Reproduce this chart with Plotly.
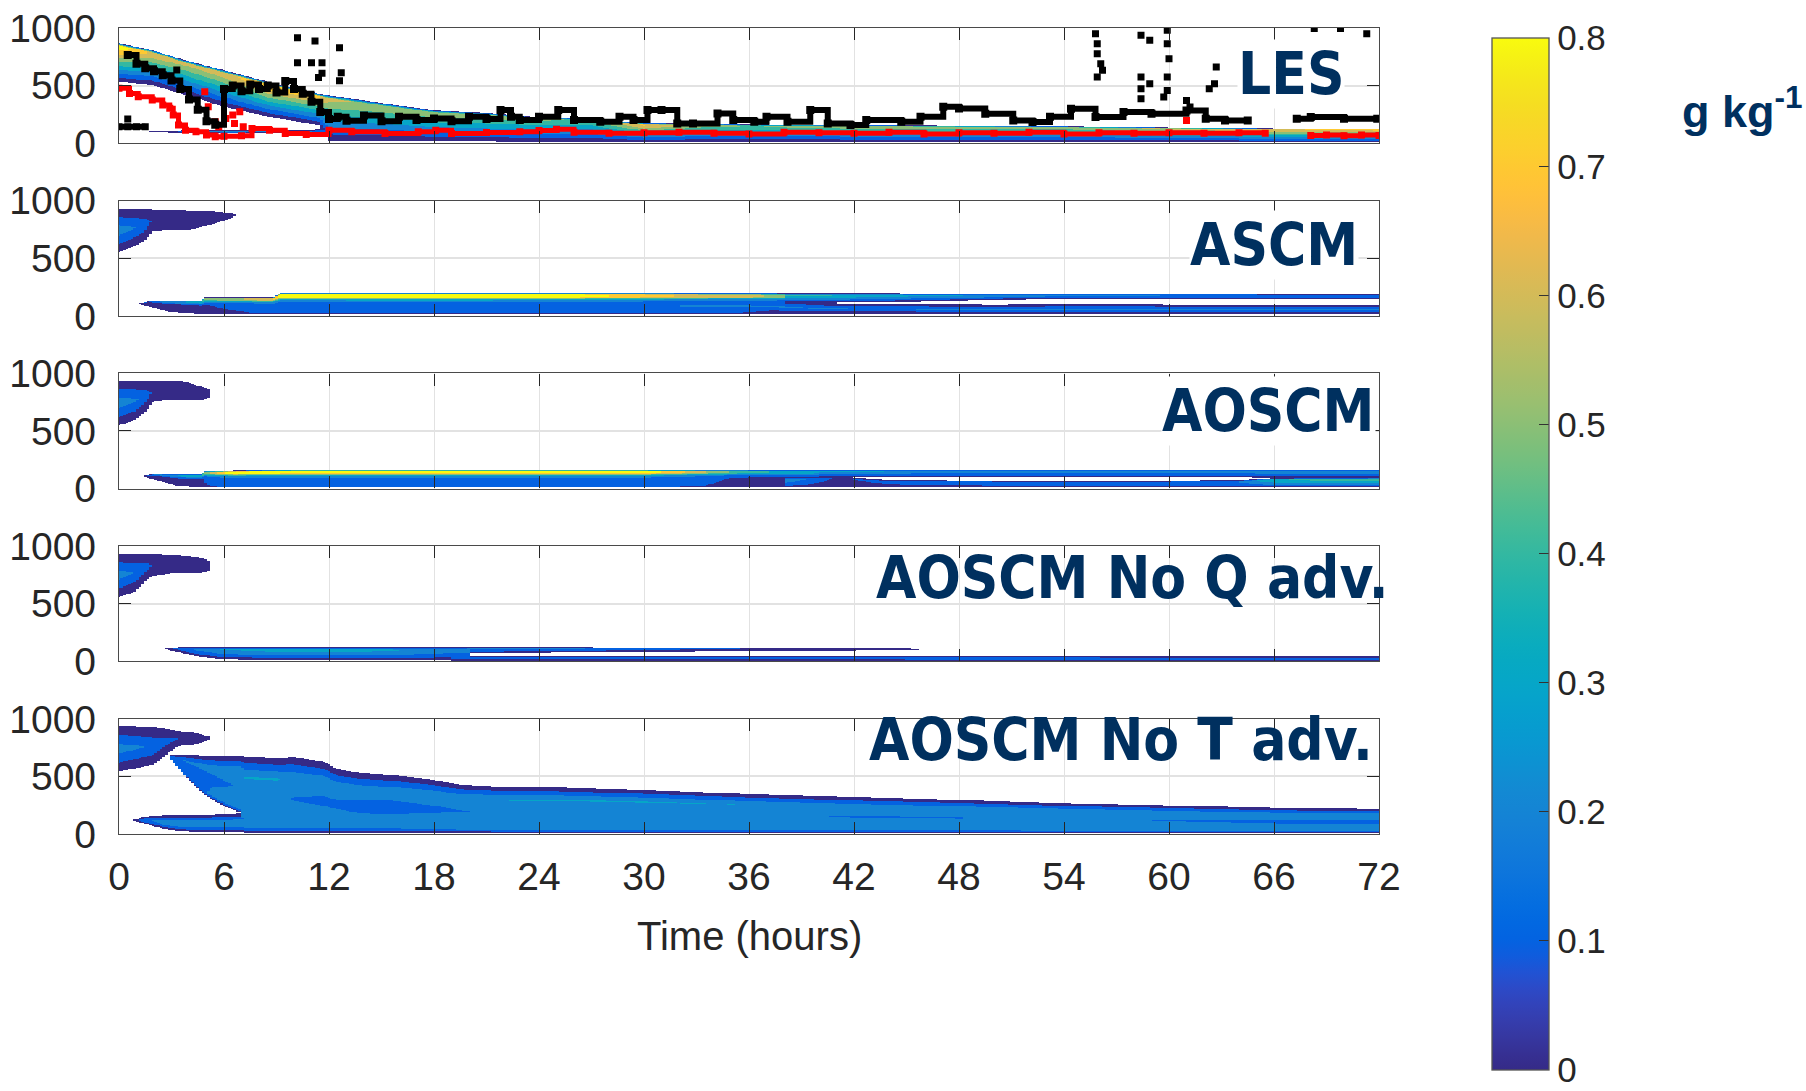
import numpy as np
import plotly.graph_objects as go
from plotly.subplots import make_subplots

# ---------------------------------------------------------------------------
# Grid for the liquid-water-content fields (time in hours, height in metres)
# ---------------------------------------------------------------------------
HOURS = np.arange(0, 72.0001, 0.15)
HEIGHTS = np.arange(0, 1000.1, 4.0)
LEVEL_STEP = 0.1        # contour interval, g/kg
MIN_LWC = 0.004         # below this the cell is left blank
X_TICKS = [0, 6, 12, 18, 24, 30, 36, 42, 48, 54, 60, 66, 72]
Y_TICKS = [0, 500, 1000]
CBAR_TICKS = [0, 0.1, 0.2, 0.3, 0.4, 0.5, 0.6, 0.7, 0.8]
CBAR_LABELS = ["0", "0.1", "0.2", "0.3", "0.4", "0.5", "0.6", "0.7", "0.8"]
PANEL_NAMES = ["LES", "ASCM", "AOSCM", "AOSCM No Q adv.", "AOSCM No T adv."]

# Vertical profile shapes (normalised height in layer -> fraction of peak LWC)
SHAPE_LES_S = [0, 0.85, 0.93, 1]
SHAPE_LES_V = [0, 0.97, 1, 0]
SHAPE_TOP_S = [0, 0.06, 0.55, 0.68, 0.76, 0.81, 0.93, 1]
SHAPE_TOP_V = [0, 0.16, 0.2, 0.38, 0.7, 1, 1, 0]
SHAPE_SYM_S = [0, 0.5, 1]
SHAPE_SYM_V = [0, 1, 0]
SHAPE_SKEW_S = [0, 0.3, 0.8, 1]
SHAPE_SKEW_V = [0, 0.5, 1, 0]
SHAPE_LOW_S = [0, 0.3, 0.6, 1]
SHAPE_LOW_V = [0, 0.85, 1, 0]
SHAPE_DEEP_S = [0, 0.03, 0.08, 0.3, 0.45, 0.6, 0.72, 0.8, 0.9, 1]
SHAPE_DEEP_V = [0, 0.45, 0.8, 0.78, 0.7, 0.8, 1.0, 0.72, 0.36, 0]

# ---------------------------- LES ------------------------------------------
LES_MAIN_T = [0, 1.9, 3.8, 6, 8.6, 11.4, 12, 15, 18, 21, 24, 27, 30, 33, 36, 42, 48, 54, 60, 66, 72]
LES_MAIN_BASE = [534, 505, 418, 316, 229, 157, 25, 20, 15, 15, 12, 12, 12, 12, 12, 12, 12, 12, 12, 12, 12]
LES_MAIN_TOP = [867, 809, 720, 635, 530, 430, 418, 350, 287, 265, 230, 215, 175, 172, 165, 160, 155, 150, 140, 132, 128]
LES_MAIN_PEAK = [0.86, 0.68, 0.62, 0.66, 0.8, 0.72, 0.62, 0.58, 0.56, 0.56, 0.52, 0.48, 0.72, 0.55, 0.5, 0.55, 0.56, 0.55, 0.62, 0.7, 0.72]
LES_LOW_T = [1.7, 3, 4.8, 6, 8.6, 11, 12]
LES_LOW_BASE = [100, 95, 93, 92, 92, 90, 60]
LES_LOW_TOP = [104, 112, 113, 115, 115, 118, 140]
LES_LOW_PEAK = [0.05, 0.08, 0.2, 0.32, 0.25, 0.2, 0.2]

# LES diagnosed boundary-layer heights (black) and cloud base (red)
BLACK_T = [0.5, 1.0, 1.5, 2.0, 2.5, 3.0, 3.5, 4.0, 4.5, 5.0, 5.5, 6.0, 6.5, 7.0, 7.5, 8.0,
           8.5, 9.0, 9.5, 10.0, 10.5, 11.0, 11.5, 12.0, 12.5, 13, 14, 15, 16, 17, 18, 19,
           20, 21, 21.8, 22.4, 22.9, 24, 25.1, 26, 27.5, 28.6, 29.4, 30.2, 31, 31.9, 32.8,
           34.2, 35.1, 36.3, 37, 38.2, 39.5, 40.5, 41.8, 42.7, 44.7, 45.8, 47.1, 48, 49.5,
           51.1, 52.2, 53.2, 54.4, 55.8, 57.4, 59, 61, 62.1, 63.2, 64.5, 65.3, 67.3, 68.1,
           70, 71.9]
BLACK_Z = [766, 690, 650, 625, 590, 545, 470, 380, 290, 190, 160, 470, 500, 450, 510, 470,
           500, 440, 540, 470, 430, 360, 270, 210, 230, 195, 240, 190, 230, 200, 215, 190,
           230, 210, 287, 229, 200, 229, 287, 200, 186, 229, 200, 287, 287, 171, 171,
           258, 200, 186, 229, 186, 287, 171, 157, 200, 186, 229, 316, 300, 255,
           197, 183, 230, 299, 226, 270, 255, 284, 212, 197, 197, None, 212, 226,
           212, 212]
BLACK_EXTRA_T = [0.5, 3.3, 10.2, 11.2, 12.6, 10.2, 11.0, 11.6, 11.6, 11.4, 12.7, 12.6,
                 55.8, 55.9, 55.9, 56.1, 56.2, 55.9, 58.4, 58.9, 58.4, 58.9, 58.4, 58.4,
                 59.9, 59.9, 60.0, 59.9, 59.9, 59.7, 61.0, 61.2, 62.7, 62.6, 62.3, 68.3,
                 69.8, 71.3]
BLACK_EXTRA_Z = [209, 635, 916, 887, 829, 699, 699, 699, 606, 571, 612, 542,
                 951, 864, 777, 690, 632, 574, 937, 893, 574, 516, 473, 386,
                 980, 864, 734, 574, 458, 400, 371, 313, 661, 516, 473, 995,
                 995, 951]
BLACK_FLAT_T = [0.0, 0.5, 1.0, 1.5]
BLACK_FLAT_Z = [142, 142, 142, 142]

RED_T = [0, 0.6, 1.1, 1.9, 2.5, 2.9, 3.1, 3.4, 3.8, 4.4, 5.0, 5.5, 6.0, 7.0, 7.6, 8.6,
         9.5, 10.7, 12, 13.3, 15.2, 17.1, 18.1, 19, 21, 22.9, 24, 25, 26, 28, 30, 32,
         34, 36, 38, 40, 42, 44, 46, 48, 50, 52, 54, 56, 58, 60, 62, 64, 65.5, 66.5,
         68.1, 69, 70, 71, 72]
RED_Z = [476, 432, 403, 374, 331, 302, 244, 157, 113, 99, 70, 55, 60, 65, 128, 113,
         84, 75, 113, 99, 84, 99, 113, 84, 93, 99, 110, 120, 95, 85, 90, 95,
         85, 80, 95, 90, 85, 95, 80, 90, 85, 95, 80, 90, 85, 90, 85, 90, 85, None,
         67, 70, 65, 70, 67]
RED_EXTRA_T = [4.9, 5.1, 5.5, 5.7, 6.1, 6.5, 6.9, 6.6, 7.1, 61.0]
RED_EXTRA_Z = [447, 316, 186, 142, 215, 244, 273, 171, 142, 197]

# ---------------------------- ASCM -----------------------------------------
ASCM_UP_T = [0, 0.7, 1.4, 1.9, 2.6, 4, 5.5, 6.3, 6.6]
ASCM_UP_BASE = [555, 590, 641, 728, 742, 742, 800, 840, 865]
ASCM_UP_TOP = [930, 930, 930, 928, 926, 920, 912, 895, 885]
ASCM_UP_PEAK = [0.26, 0.22, 0.17, 0.09, 0.08, 0.08, 0.07, 0.06, 0.03]
ASCM_LOW_T = [1.1, 1.8, 2.9, 4.7, 4.9, 8.8, 9.2, 20, 26, 30, 34, 38]
ASCM_LOW_BASE = [105, 80, 35, 20, 20, 20, 20, 20, 20, 20, 20, 20]
ASCM_LOW_TOP = [110, 136, 136, 136, 165, 165, 200, 200, 200, 200, 199, 198]
ASCM_LOW_PEAK = [0.05, 0.15, 0.25, 0.35, 0.5, 0.68, 0.9, 0.92, 0.86, 0.74, 0.65, 0.58]
ASCM_DECK_T = [37, 40, 45, 50, 55, 60, 66, 72]
ASCM_DECK_BASE = [120, 118, 125, 140, 150, 150, 150, 150]
ASCM_DECK_TOP = [198, 198, 196, 195, 194, 193, 192, 190]
ASCM_DECK_PEAK = [0.45, 0.42, 0.35, 0.3, 0.25, 0.22, 0.2, 0.2]
ASCM_SFC_T = [32, 37, 40, 45, 50, 57, 60, 66, 72]
ASCM_SFC_BASE = [20, 20, 20, 20, 20, 20, 20, 20, 20]
ASCM_SFC_TOP = [160, 150, 115, 105, 100, 107, 100, 100, 100]
ASCM_SFC_PEAK = [0.22, 0.22, 0.21, 0.21, 0.22, 0.22, 0.23, 0.23, 0.23]

# ---------------------------- AOSCM ----------------------------------------
AOSCM_UP_T = [0, 0.9, 1.6, 1.9, 3, 3.7, 4.2, 4.9, 5.2]
AOSCM_UP_BASE = [548, 592, 679, 751, 766, 766, 766, 770, 790]
AOSCM_UP_TOP = [940, 940, 940, 940, 940, 938, 910, 885, 860]
AOSCM_UP_PEAK = [0.26, 0.22, 0.15, 0.09, 0.08, 0.08, 0.07, 0.06, 0.04]
AOSCM_LOW_T = [1.3, 2.0, 3.4, 4.7, 4.9, 6.5, 10, 20, 30, 33, 36, 40]
AOSCM_LOW_BASE = [110, 80, 26, 12, 12, 12, 12, 12, 12, 12, 12, 12]
AOSCM_LOW_TOP = [115, 128, 128, 128, 157, 160, 165, 165, 165, 165, 165, 165]
AOSCM_LOW_PEAK = [0.05, 0.2, 0.3, 0.4, 0.55, 0.88, 0.92, 0.92, 0.88, 0.64, 0.42, 0.35]
AOSCM_DECK_T = [38, 44, 50, 60, 64.5, 66, 72]
AOSCM_DECK_BASE = [100, 102, 102, 102, 100, 95, 95]
AOSCM_DECK_TOP = [165, 165, 165, 165, 165, 165, 165]
AOSCM_DECK_PEAK = [0.35, 0.3, 0.28, 0.28, 0.28, 0.3, 0.32]
AOSCM_SFC_T = [38, 41, 44, 50, 60, 64, 66, 72]
AOSCM_SFC_BASE = [12, 12, 12, 12, 12, 12, 12, 12]
AOSCM_SFC_TOP = [100, 113, 75, 70, 70, 75, 95, 100]
AOSCM_SFC_PEAK = [0.3, 0.08, 0.15, 0.19, 0.19, 0.22, 0.42, 0.48]

# ---------------------------- AOSCM No Q adv. ------------------------------
NOQ_UP_T = [0, 0.9, 1.6, 1.9, 3, 4.2, 4.9, 5.2]
NOQ_UP_BASE = [560, 603, 705, 734, 763, 763, 770, 790]
NOQ_UP_TOP = [937, 937, 937, 935, 930, 915, 895, 870]
NOQ_UP_PEAK = [0.25, 0.2, 0.14, 0.09, 0.08, 0.07, 0.06, 0.04]
NOQ_LOW_T = [2.5, 3.5, 4.5, 5.7, 9, 13.6, 17, 20]
NOQ_LOW_BASE = [110, 80, 45, 23, 12, 12, 12, 12]
NOQ_LOW_TOP = [115, 125, 125, 125, 125, 125, 125, 125]
NOQ_LOW_PEAK = [0.05, 0.16, 0.24, 0.3, 0.36, 0.36, 0.3, 0.25]
NOQ_DECK_T = [19, 20, 25, 30, 36, 42, 45, 46]
NOQ_DECK_BASE = [60, 72, 80, 85, 90, 95, 100, 105]
NOQ_DECK_TOP = [125, 125, 125, 123, 122, 120, 118, 112]
NOQ_DECK_PEAK = [0.24, 0.24, 0.22, 0.17, 0.1, 0.07, 0.04, 0.02]
NOQ_SFC_T = [19, 20, 30, 45, 60, 72]
NOQ_SFC_BASE = [10, 10, 10, 10, 10, 10]
NOQ_SFC_TOP = [60, 52, 50, 48, 45, 45]
NOQ_SFC_PEAK = [0.2, 0.19, 0.19, 0.19, 0.18, 0.18]

# ---------------------------- AOSCM No T adv. ------------------------------
NOT_UP_T = [0, 1, 2, 2.8, 3.5, 4.5, 5.1]
NOT_UP_BASE = [545, 570, 600, 700, 770, 780, 815]
NOT_UP_TOP = [940, 935, 930, 915, 895, 880, 850]
NOT_UP_PEAK = [0.25, 0.22, 0.18, 0.13, 0.1, 0.08, 0.05]
NOT_MAIN_T = [3.0, 4.0, 5.0, 6.0, 6.9, 7.2, 9, 10, 11.7, 12.5, 13.8, 15.7, 18, 19.5, 22.4,
              25, 30.4, 36, 42, 48, 54, 60, 66, 72]
NOT_MAIN_BASE = [640, 470, 330, 245, 190, 15, 15, 15, 15, 15, 15, 15, 15, 15, 15,
                 15, 15, 15, 15, 15, 15, 15, 15, 15]
NOT_MAIN_TOP = [690, 688, 684, 680, 679, 678, 660, 670, 632, 565, 536, 516, 473, 430, 409,
                408, 383, 350, 325, 300, 270, 252, 232, 223]
NOT_MAIN_PEAK = [0.18, 0.22, 0.25, 0.27, 0.3, 0.31, 0.31, 0.28, 0.27, 0.27, 0.26, 0.26, 0.27,
                 0.28, 0.31, 0.31, 0.31, 0.3, 0.28, 0.28, 0.3, 0.28, 0.27, 0.27]
NOT_LOW_T = [0.8, 1.5, 2.5, 3.5, 5, 6.5, 7.3]
NOT_LOW_BASE = [118, 90, 50, 25, 20, 18, 15]
NOT_LOW_TOP = [125, 155, 165, 165, 170, 180, 185]
NOT_LOW_PEAK = [0.05, 0.18, 0.24, 0.25, 0.25, 0.25, 0.25]

# MATLAB parula colormap (64 entries)
PARULA = [
    (0.2081, 0.1663, 0.5292), (0.2116, 0.1898, 0.5777), (0.2123, 0.2138, 0.6270),
    (0.2081, 0.2386, 0.6771), (0.1959, 0.2645, 0.7279), (0.1707, 0.2919, 0.7792),
    (0.1253, 0.3242, 0.8303), (0.0591, 0.3598, 0.8683), (0.0117, 0.3875, 0.8820),
    (0.0060, 0.4086, 0.8828), (0.0165, 0.4266, 0.8786), (0.0329, 0.4430, 0.8720),
    (0.0498, 0.4586, 0.8641), (0.0629, 0.4737, 0.8554), (0.0723, 0.4887, 0.8467),
    (0.0779, 0.5040, 0.8384), (0.0793, 0.5200, 0.8312), (0.0749, 0.5375, 0.8263),
    (0.0641, 0.5570, 0.8240), (0.0488, 0.5772, 0.8228), (0.0343, 0.5966, 0.8199),
    (0.0265, 0.6137, 0.8135), (0.0239, 0.6287, 0.8038), (0.0231, 0.6418, 0.7913),
    (0.0228, 0.6535, 0.7768), (0.0267, 0.6642, 0.7607), (0.0384, 0.6743, 0.7436),
    (0.0590, 0.6838, 0.7254), (0.0843, 0.6928, 0.7062), (0.1133, 0.7015, 0.6859),
    (0.1453, 0.7098, 0.6646), (0.1801, 0.7177, 0.6424), (0.2178, 0.7250, 0.6193),
    (0.2586, 0.7317, 0.5954), (0.3022, 0.7376, 0.5712), (0.3482, 0.7424, 0.5473),
    (0.3953, 0.7459, 0.5244), (0.4420, 0.7481, 0.5033), (0.4871, 0.7491, 0.4840),
    (0.5300, 0.7491, 0.4661), (0.5709, 0.7485, 0.4494), (0.6099, 0.7473, 0.4337),
    (0.6473, 0.7456, 0.4188), (0.6834, 0.7435, 0.4044), (0.7184, 0.7411, 0.3905),
    (0.7525, 0.7384, 0.3768), (0.7858, 0.7356, 0.3633), (0.8185, 0.7327, 0.3498),
    (0.8507, 0.7299, 0.3360), (0.8824, 0.7274, 0.3217), (0.9139, 0.7258, 0.3063),
    (0.9450, 0.7261, 0.2886), (0.9739, 0.7314, 0.2666), (0.9938, 0.7455, 0.2403),
    (0.9990, 0.7653, 0.2164), (0.9955, 0.7861, 0.1967), (0.9880, 0.8066, 0.1794),
    (0.9789, 0.8271, 0.1633), (0.9697, 0.8481, 0.1475), (0.9626, 0.8705, 0.1309),
    (0.9589, 0.8949, 0.1132), (0.9598, 0.9218, 0.0948), (0.9661, 0.9514, 0.0755),
    (0.9763, 0.9831, 0.0538),
]
PARULA_SCALE = [[i / (len(PARULA) - 1),
                 "rgb(%d,%d,%d)" % tuple(round(c * 255) for c in rgb)]
                for i, rgb in enumerate(PARULA)]


def layer_field(t, base, top, peak, shape_s, shape_v):
    """LWC of one cloud layer on the (height, time) grid."""
    b = np.interp(HOURS, t, base)
    h = np.interp(HOURS, t, top)
    p = np.interp(HOURS, t, peak)
    s = (HEIGHTS[:, None] - b[None, :]) / np.maximum(h - b, 1.0)[None, :]
    v = p[None, :] * np.interp(s, shape_s, shape_v, left=0.0, right=0.0)
    outside = (HOURS < t[0]) | (HOURS > t[-1])
    v[:, outside] = 0.0
    return v


def banded(layers):
    """Combine layers and snap to the contour intervals (filled-contour look)."""
    field = np.zeros((len(HEIGHTS), len(HOURS)))
    for lay in layers:
        field = np.maximum(field, layer_field(*lay))
    q = np.floor(field / LEVEL_STEP + 1e-9) * LEVEL_STEP
    q = np.minimum(q, 0.8)
    q[field < MIN_LWC] = np.nan
    return q.astype(np.float32)


fields = [
    banded([
        (LES_MAIN_T, LES_MAIN_BASE, LES_MAIN_TOP, LES_MAIN_PEAK, SHAPE_LES_S, SHAPE_LES_V),
        (LES_LOW_T, LES_LOW_BASE, LES_LOW_TOP, LES_LOW_PEAK, SHAPE_SYM_S, SHAPE_SYM_V),
    ]),
    banded([
        (ASCM_UP_T, ASCM_UP_BASE, ASCM_UP_TOP, ASCM_UP_PEAK, SHAPE_SYM_S, SHAPE_SYM_V),
        (ASCM_LOW_T, ASCM_LOW_BASE, ASCM_LOW_TOP, ASCM_LOW_PEAK, SHAPE_TOP_S, SHAPE_TOP_V),
        (ASCM_DECK_T, ASCM_DECK_BASE, ASCM_DECK_TOP, ASCM_DECK_PEAK, SHAPE_SKEW_S, SHAPE_SKEW_V),
        (ASCM_SFC_T, ASCM_SFC_BASE, ASCM_SFC_TOP, ASCM_SFC_PEAK, SHAPE_SYM_S, SHAPE_SYM_V),
    ]),
    banded([
        (AOSCM_UP_T, AOSCM_UP_BASE, AOSCM_UP_TOP, AOSCM_UP_PEAK, SHAPE_SYM_S, SHAPE_SYM_V),
        (AOSCM_LOW_T, AOSCM_LOW_BASE, AOSCM_LOW_TOP, AOSCM_LOW_PEAK, SHAPE_TOP_S, SHAPE_TOP_V),
        (AOSCM_DECK_T, AOSCM_DECK_BASE, AOSCM_DECK_TOP, AOSCM_DECK_PEAK, SHAPE_SKEW_S, SHAPE_SKEW_V),
        (AOSCM_SFC_T, AOSCM_SFC_BASE, AOSCM_SFC_TOP, AOSCM_SFC_PEAK, SHAPE_SKEW_S, SHAPE_SKEW_V),
    ]),
    banded([
        (NOQ_UP_T, NOQ_UP_BASE, NOQ_UP_TOP, NOQ_UP_PEAK, SHAPE_SYM_S, SHAPE_SYM_V),
        (NOQ_LOW_T, NOQ_LOW_BASE, NOQ_LOW_TOP, NOQ_LOW_PEAK, SHAPE_SKEW_S, SHAPE_SKEW_V),
        (NOQ_DECK_T, NOQ_DECK_BASE, NOQ_DECK_TOP, NOQ_DECK_PEAK, SHAPE_SKEW_S, SHAPE_SKEW_V),
        (NOQ_SFC_T, NOQ_SFC_BASE, NOQ_SFC_TOP, NOQ_SFC_PEAK, SHAPE_SYM_S, SHAPE_SYM_V),
    ]),
    banded([
        (NOT_UP_T, NOT_UP_BASE, NOT_UP_TOP, NOT_UP_PEAK, SHAPE_SYM_S, SHAPE_SYM_V),
        (NOT_MAIN_T, NOT_MAIN_BASE, NOT_MAIN_TOP, NOT_MAIN_PEAK, SHAPE_DEEP_S, SHAPE_DEEP_V),
        (NOT_LOW_T, NOT_LOW_BASE, NOT_LOW_TOP, NOT_LOW_PEAK, SHAPE_LOW_S, SHAPE_LOW_V),
    ]),
]

# ---------------------------------------------------------------------------
# Figure
# ---------------------------------------------------------------------------
TEXT = "#262626"
NAVY = "#00305f"
TICK_FONT = dict(family="Liberation Sans, Arial, sans-serif", size=39, color=TEXT)

fig = make_subplots(rows=5, cols=1, shared_xaxes=False, vertical_spacing=1 / 14)

for i, z in enumerate(fields):
    fig.add_trace(go.Heatmap(x=HOURS, y=HEIGHTS, z=z, coloraxis="coloraxis",
                             zsmooth=False, hoverinfo="skip"), row=i + 1, col=1)

# LES diagnostics
fig.add_trace(go.Scatter(x=RED_T, y=RED_Z, mode="lines+markers", line_shape="hv",
                         line=dict(color="#ff0000", width=5),
                         marker=dict(symbol="square", size=7, color="#ff0000"),
                         connectgaps=False, hoverinfo="skip"), row=1, col=1)
fig.add_trace(go.Scatter(x=RED_EXTRA_T, y=RED_EXTRA_Z, mode="markers",
                         marker=dict(symbol="square", size=7, color="#ff0000"),
                         hoverinfo="skip"), row=1, col=1)
fig.add_trace(go.Scatter(x=BLACK_T, y=BLACK_Z, mode="lines+markers", line_shape="hv",
                         line=dict(color="#000000", width=6),
                         marker=dict(symbol="square", size=8, color="#000000"),
                         connectgaps=False, hoverinfo="skip"), row=1, col=1)
fig.add_trace(go.Scatter(x=BLACK_FLAT_T, y=BLACK_FLAT_Z, mode="lines+markers",
                         line=dict(color="#000000", width=6),
                         marker=dict(symbol="square", size=7, color="#000000"),
                         hoverinfo="skip"), row=1, col=1)
fig.add_trace(go.Scatter(x=BLACK_EXTRA_T, y=BLACK_EXTRA_Z, mode="markers",
                         marker=dict(symbol="square", size=7, color="#000000"),
                         hoverinfo="skip"), row=1, col=1)

for i in range(5):
    fig.update_xaxes(row=i + 1, col=1, range=[0, 72], tickvals=X_TICKS,
                     showticklabels=(i == 4), showgrid=True, gridcolor="#e2e2e2",
                     gridwidth=1, showline=True, linecolor="#4a4a4a", linewidth=1.3,
                     mirror="allticks", ticks="inside", ticklen=12, tickwidth=1.3,
                     tickcolor=TEXT, tickfont=TICK_FONT, ticklabelstandoff=8,
                     zeroline=False, automargin=False)
    fig.update_yaxes(row=i + 1, col=1, range=[0, 1000], tickvals=Y_TICKS,
                     showgrid=True, gridcolor="#e2e2e2", gridwidth=1.5, showline=True,
                     linecolor="#4a4a4a", linewidth=1.3, mirror="allticks",
                     ticks="inside", ticklen=12, tickwidth=1.3, tickcolor=TEXT,
                     tickfont=TICK_FONT, ticklabelstandoff=14, zeroline=False,
                     automargin=False)

# Panel names (the upper three sit on a white box over the grid)
label_x = [0.973, 0.984, 0.9976, 1.0087, 0.996]
label_y = [0.9425, 0.7304, 0.5246, 0.3175, 0.1166]
label_bg = ["white", "white", "white", "rgba(0,0,0,0)", "rgba(0,0,0,0)"]
for name, lx, ly, bg in zip(PANEL_NAMES, label_x, label_y, label_bg):
    fig.add_annotation(text=name, x=lx, y=ly, xref="paper", yref="paper",
                       xanchor="right", yanchor="middle", showarrow=False,
                       bgcolor=bg, borderpad=0,
                       font=dict(family="DejaVu Sans Condensed, DejaVu Sans, sans-serif",
                                 size=58, color=NAVY, weight="bold"))

fig.add_annotation(text="Time (hours)", x=0.5, y=-0.1265, xref="paper", yref="paper",
                   xanchor="center", yanchor="middle", showarrow=False,
                   font=dict(family="Liberation Sans, Arial, sans-serif", size=40,
                             color=TEXT))
fig.add_annotation(text="g kg<sup>-1</sup>", x=1.2391, y=0.9003, xref="paper",
                   yref="paper", xanchor="left", yanchor="middle", showarrow=False,
                   font=dict(family="Liberation Sans, Arial, sans-serif", size=45,
                             color=NAVY, weight="bold"))

fig.update_layout(
    width=1806, height=1091,
    margin=dict(l=119, r=427, t=28, b=257, autoexpand=False),
    paper_bgcolor="white", plot_bgcolor="white",
    showlegend=False,
    coloraxis=dict(
        colorscale=PARULA_SCALE, cmin=0, cmax=0.8,
        colorbar=dict(
            x=1.0897, xanchor="left", xref="paper", xpad=0, ypad=0,
            y=0.3474, yanchor="middle", yref="paper",
            thickness=57, thicknessmode="pixels", len=1032, lenmode="pixels",
            outlinewidth=1.3, outlinecolor="#555555",
            tickvals=CBAR_TICKS, ticktext=CBAR_LABELS,
            ticklabeloverflow="allow",
            ticks="inside", ticklen=10, tickwidth=1.3, tickcolor="#333333",
            tickfont=dict(family="Liberation Sans, Arial, sans-serif", size=35,
                          color=TEXT),
        ),
    ),
)

fig.write_html("out.html")
